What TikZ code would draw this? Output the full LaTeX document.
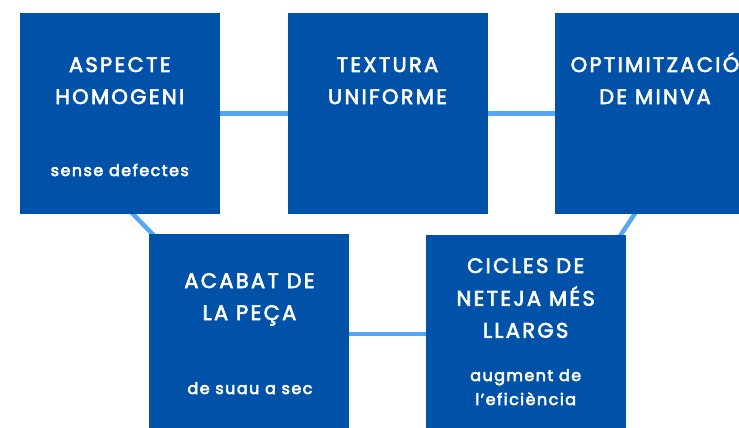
\documentclass[tikz,border=0pt]{standalone}
\usepackage{fontspec}
\setmainfont{Poppins}
\newfontfamily\tfont[LetterSpace=11,FakeBold=3]{Poppins}
\newfontfamily\sfont[LetterSpace=9,FakeBold=3.5]{Poppins}
\usetikzlibrary{backgrounds}
\definecolor{boxblue}{HTML}{0051A8}
\definecolor{lineblue}{HTML}{55A6F6}
\tikzset{
  box/.style={fill=boxblue, minimum width=200pt, minimum height=200pt, inner sep=0pt},
  ttl/.style={text=white, anchor=base, inner sep=0pt, font=\tfont\fontsize{21}{32}\selectfont},
  sbt/.style={text=white, anchor=base, inner sep=0pt, font=\sfont\fontsize{16}{24}\selectfont},
  conn/.style={draw=lineblue, line width=4.5pt}
}
\begin{document}
\begin{tikzpicture}[x=1pt,y=-1pt]
\useasboundingbox (0,0) rectangle (739,428);
\clip (0,0) rectangle (739,428);
\node[box] (b1) at (119.75,113.5) {};
\node[box] (b2) at (387.5,113.5) {};
\node[box] (b3) at (655,113.5) {};
\node[box] (b4) at (249.3,334) {};
\node[box] (b5) at (525.7,334.5) {};
\coordinate (j1) at (38,116);
\coordinate (j2) at (701,114);
\coordinate (j3) at (555,334);
\begin{scope}[on background layer]
  \draw[conn] (b1.center) -- (b2.center);
  \draw[conn] (b2.center) -- (b3.center);
  \draw[conn] (b4.center) -- (b4.center -| b5.center);
  \draw[conn] (j1) -- (b4.center);
  \draw[conn] (j2) -- (j3);
\end{scope}
% texts
\node[ttl] (t1a) at (119.75,72) {ASPECTE};
\node[ttl] (t1b) at (119.75,104) {HOMOGENI};
\node[sbt] (s1a) at (119.75,176) {sense defectes};
\node[ttl] (t2a) at (387.5,72) {TEXTURA};
\node[ttl] (t2b) at (387.5,104) {UNIFORME};
\node[ttl] (t3a) at (655,72) {OPTIMITZACIÓ};
\node[ttl] (t3b) at (655,104) {DE MINVA};
\node[ttl] (t4a) at (249.5,288) {ACABAT DE};
\node[ttl] (t4b) at (249.5,320) {LA PEÇA};
\node[sbt] (s4a) at (250,394) {de suau a sec};
\node[ttl] (t5a) at (525.7,273) {CICLES DE};
\node[ttl] (t5b) at (525.7,305.7) {NETEJA MÉS};
\node[ttl] (t5c) at (525.7,337.7) {LLARGS};
\node[sbt] (s5a) at (525.7,381) {augment de};
\node[sbt] (s5b) at (525.7,405) {l’eficiència};
\end{tikzpicture}
\end{document}
